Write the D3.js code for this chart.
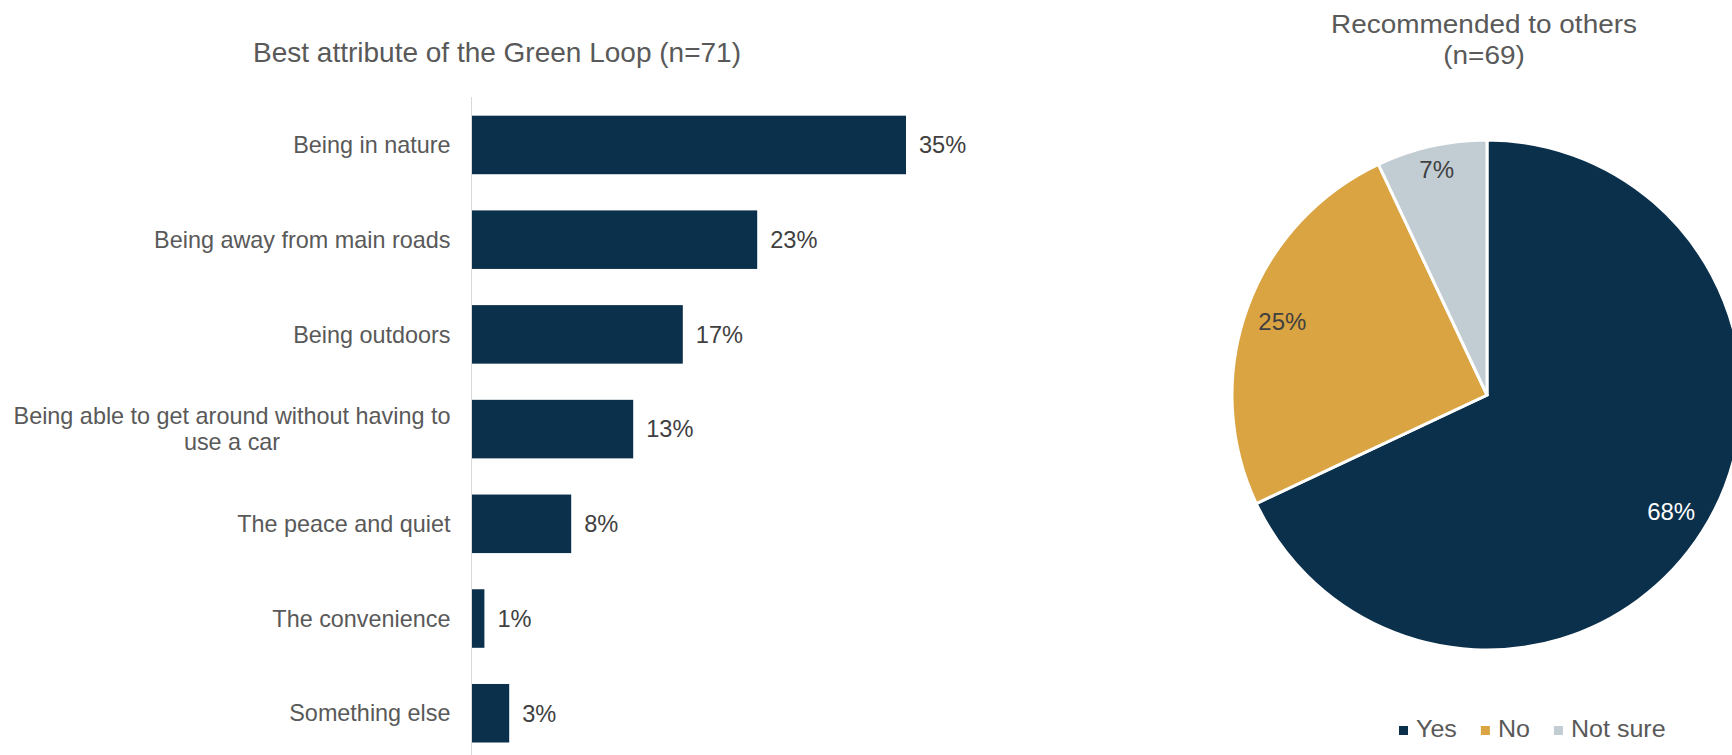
<!DOCTYPE html>
<html>
<head>
<meta charset="utf-8">
<script src="https://cdn.jsdelivr.net/npm/d3@7"></script>
<style>
  html, body { margin: 0; padding: 0; background: #fff; overflow: hidden; }
  svg { display: block; font-family: "Liberation Sans", Arial, sans-serif; }
</style>
</head>
<body>
<svg id="chart" width="1732" height="755"></svg>
<script>
// ---- data ----
const attributes = [
  "Being in nature",
  "Being away from main roads",
  "Being outdoors",
  "Being able to get around without having to use a car",
  "The peace and quiet",
  "The convenience",
  "Something else"
];
const attributeShares = [35, 23, 17, 13, 8, 1, 3];

const recommendAnswers = ["Yes", "No", "Not sure"];
const recommendShares = [68, 25, 7];

const barTitle = "Best attribute of the Green Loop (n=71)";
const pieTitleLines = ["Recommended to others", "(n=69)"];

// ---- styling ----
const NAVY = "#0B304B", GOLD = "#D9A441", MIST = "#C2CCD3";
const pieColors = [NAVY, GOLD, MIST];
const TEXT_GREY = "#595959", VALUE_GREY = "#404040";
const LABEL_SIZE = 23.4;

const svg = d3.select("#chart");

// ================= horizontal bar chart =================
const x = d3.scaleLinear().domain([0, 40]).range([472, 968]);
const y = d3.scaleBand()
  .domain(attributes)
  .range([97.6, 760.6])
  .paddingInner(0.382)
  .paddingOuter(0.191);

svg.append("text")
  .attr("x", 497).attr("y", 62)
  .attr("text-anchor", "middle")
  .attr("font-size", 28)
  .attr("fill", TEXT_GREY)
  .text(barTitle);

const rows = attributes.map((name, i) => ({ name, value: attributeShares[i] }));

svg.append("g").selectAll("rect")
  .data(rows)
  .join("rect")
  .attr("x", x(0))
  .attr("y", d => y(d.name))
  .attr("width", d => x(d.value) - x(0))
  .attr("height", y.bandwidth())
  .attr("fill", NAVY);

// category axis line
svg.append("line")
  .attr("x1", x(0) - 0.5).attr("x2", x(0) - 0.5)
  .attr("y1", 97).attr("y2", 755)
  .attr("stroke", "#D9D9D9").attr("stroke-width", 1);

// measure helper for wrapping category labels
const measurer = svg.append("text").attr("font-size", LABEL_SIZE).attr("visibility", "hidden");
function textWidth(s) { measurer.text(s); return measurer.node().getComputedTextLength(); }
function wrap(s, maxW) {
  const words = s.split(" ");
  const lines = [];
  let line = "";
  words.forEach(w => {
    const t = line ? line + " " + w : w;
    if (line && textWidth(t) > maxW) { lines.push(line); line = w; }
    else line = t;
  });
  if (line) lines.push(line);
  return lines;
}

const labelRight = x(0) - 21.5;
const labelG = svg.append("g").attr("font-size", LABEL_SIZE).attr("fill", TEXT_GREY);
rows.forEach(d => {
  const lines = wrap(d.name, 455);
  const cy = y(d.name) + y.bandwidth() / 2;
  if (lines.length === 1) {
    labelG.append("text")
      .attr("x", labelRight).attr("y", cy).attr("dy", "0.35em")
      .attr("text-anchor", "end")
      .text(lines[0]);
  } else {
    const maxW = d3.max(lines, textWidth);
    const lineH = 26;
    lines.forEach((l, i) => {
      labelG.append("text")
        .attr("x", labelRight - maxW / 2)
        .attr("y", cy + (i - (lines.length - 1) / 2) * lineH)
        .attr("dy", "0.35em")
        .attr("text-anchor", "middle")
        .text(l);
    });
  }
});
measurer.remove();

svg.append("g").attr("font-size", 23.6).attr("fill", VALUE_GREY)
  .selectAll("text")
  .data(rows)
  .join("text")
  .attr("x", d => x(d.value) + 13)
  .attr("y", d => y(d.name) + y.bandwidth() / 2)
  .attr("dy", "0.35em")
  .text(d => d.value + "%");

// ================= pie chart =================
const pieCx = 1487, pieCy = 395, R = 255;

pieTitleLines.forEach((l, i) => {
  svg.append("g")
    .attr("transform", `translate(${pieCx - 3},${32.5 + i * 31.5}) scale(1.075,1)`)
    .append("text")
    .attr("text-anchor", "middle")
    .attr("font-size", 26)
    .attr("fill", TEXT_GREY)
    .text(l);
});

const slices = d3.pie().sort(null).value(d => d)(recommendShares);
const arc = d3.arc().innerRadius(0).outerRadius(R);
const pg = svg.append("g").attr("transform", `translate(${pieCx},${pieCy})`);

pg.selectAll("path")
  .data(slices)
  .join("path")
  .attr("d", arc)
  .attr("fill", (d, i) => pieColors[i])
  .attr("stroke", "#fff")
  .attr("stroke-width", 3)
  .attr("stroke-linejoin", "miter");

// data labels placed just inside the outer edge of each slice
slices.forEach((s, i) => {
  const t = pg.append("text")
    .attr("font-size", 24)
    .attr("text-anchor", "middle")
    .attr("dy", "0.35em")
    .attr("fill", i === 0 ? "#FFFFFF" : VALUE_GREY)
    .text(recommendShares[i] + "%");
  const hw = t.node().getComputedTextLength() / 2, hh = 8.5;
  const a = (s.startAngle + s.endAngle) / 2;
  const r = R - 12 - (Math.abs(Math.sin(a)) * hw + Math.abs(Math.cos(a)) * hh);
  t.attr("x", r * Math.sin(a)).attr("y", -r * Math.cos(a));
});

// legend
let lx = 1399;
recommendAnswers.forEach((name, i) => {
  svg.append("rect")
    .attr("x", lx).attr("y", 726)
    .attr("width", 9).attr("height", 9)
    .attr("fill", pieColors[i]);
  const t = svg.append("g")
    .attr("transform", `translate(${lx + 17},737) scale(1.09,1)`)
    .append("text")
    .attr("font-size", 23)
    .attr("fill", TEXT_GREY)
    .text(name);
  lx += 17 + t.node().getComputedTextLength() * 1.09 + 24;
});
</script>
</body>
</html>
